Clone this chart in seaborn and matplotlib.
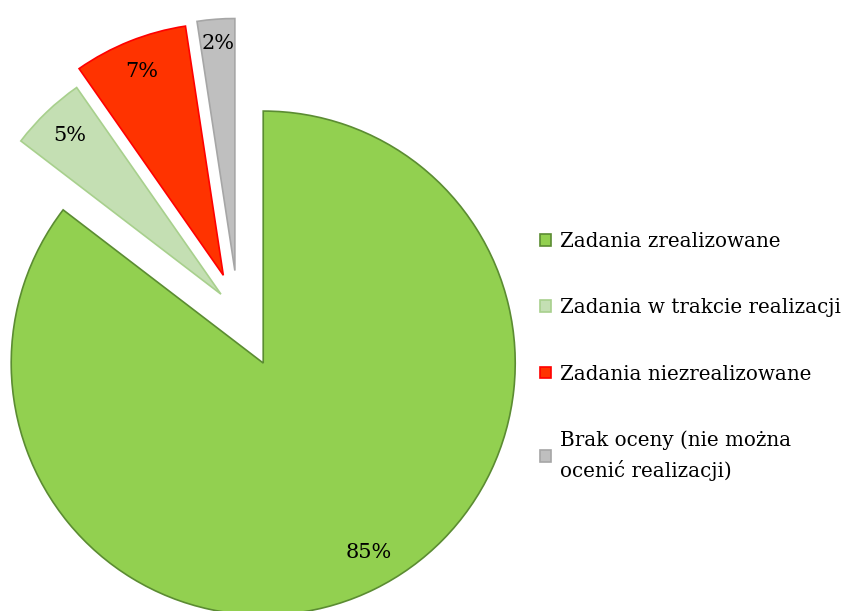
import matplotlib
matplotlib.use("Agg")
import numpy as np
import matplotlib.pyplot as plt
import seaborn as sns

sns.set_theme(style="white")
plt.rcParams['font.family'] = ['DejaVu Serif', 'DejaVu Sans']
plt.rcParams['text.color'] = 'black'

categories = ["Zadania zrealizowane", "Zadania w trakcie realizacji",
              "Zadania niezrealizowane", "Brak oceny (nie można\nocenić realizacji)"]
values = [85.4, 4.9, 7.3, 2.4]
colors = ["#92D050", "#C4DFB3", "#FF3300", "#BFBFBF"]
edge_colors = ["#5B8C32", "#A8D08D", "#FF0000", "#A6A6A6"]

W, H = 843, 611
R = 252.0          # radius in px
cx, cy = 238.0, 312.0  # true centre in px (from top-left)

fig = plt.figure(figsize=(W / 100, H / 100), dpi=100)
ax = fig.add_axes([0, 0, 1, 1])

wedges, texts, autotexts = ax.pie(
    values,
    colors=colors,
    startangle=90,
    counterclock=False,
    explode=[0.226, 0.098, 0.157, 0.165],
    autopct=lambda p: f"{p:.0f}%",
    pctdistance=0.87,
    textprops=dict(fontsize=15, color="black"),
    wedgeprops=dict(linewidth=1.2),
)
for w, ec in zip(wedges, edge_colors):
    w.set_edgecolor(ec)

# label placement per slice (distance from slice apex, angle offset)
label_dist = [0.86, 0.87, 0.87, 0.905]
label_dang = [3.0, 0.0, 0.0, 0.0]
for w, t, d, da in zip(wedges, autotexts, label_dist, label_dang):
    ang = np.deg2rad((w.theta1 + w.theta2) / 2 + da)
    x0, y0 = w.center
    t.set_position((x0 + d * np.cos(ang), y0 + d * np.sin(ang)))

ax.set_aspect("auto")
ax.set_xlim(-cx / R, (W - cx) / R)
ax.set_ylim(-(H - cy) / R, cy / R)
ax.axis("off")

leg = ax.legend(wedges, categories, loc="upper left",
                bbox_to_anchor=(540 / W, 1 - 232 / H), bbox_transform=fig.transFigure,
                frameon=False, fontsize=14.3, handlelength=0.55, handleheight=0.55,
                handletextpad=0.45, labelspacing=2.38, borderpad=0, borderaxespad=0)
for t in leg.get_texts():
    t.set_linespacing(1.55)
    t.set_color("black")

fig.savefig("out.png", dpi=100)
